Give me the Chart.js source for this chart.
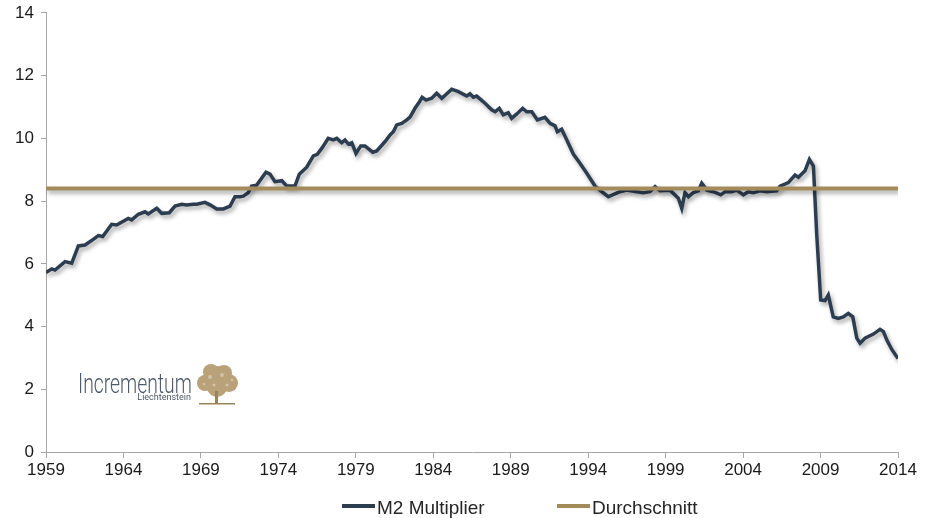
<!DOCTYPE html>
<html>
<head>
<meta charset="utf-8">
<script src="https://cdn.jsdelivr.net/npm/chart.js@4/dist/chart.umd.min.js"></script>
<style>
    html, body { margin: 0; padding: 0; background: #fff; }
    #wrap { width: 933px; height: 518px; position: relative; }
    #legend { position: absolute; left: 0; top: 0; width: 933px; height: 518px; pointer-events: none; }
    .lg-swatch { position: absolute; width: 33px; height: 4px; }
    .lg-text {
        position: absolute; font: 19px/19px "Liberation Sans", Arial, sans-serif;
        color: #262626; white-space: nowrap;
    }
</style>
</head>
<body>
<div id="wrap"><canvas id="chart"></canvas><div id="legend"></div></div>
<script>
// Quarterly-ish readings of the M2 multiplier (decimal years)
const years = [
    1959.00, 1959.37, 1959.58, 1960.23, 1960.66, 1961.09, 1961.52, 1962.05, 1962.38, 1962.66,
    1963.24, 1963.56, 1964.31, 1964.53, 1964.96, 1965.39, 1965.60, 1966.15, 1966.47, 1966.96,
    1967.33, 1967.76, 1968.08, 1968.51, 1968.73, 1969.26, 1969.59, 1970.02, 1970.45, 1970.88,
    1971.20, 1971.52, 1971.74, 1972.06, 1972.28, 1972.60, 1973.20, 1973.46, 1973.78, 1974.22,
    1974.54, 1975.07, 1975.35, 1975.83, 1976.26, 1976.51, 1976.80, 1977.22, 1977.55, 1977.77,
    1978.09, 1978.30, 1978.52, 1978.74, 1979.01, 1979.32, 1979.59, 1980.09, 1980.35, 1980.89,
    1981.21, 1981.42, 1981.64, 1981.96, 1982.29, 1982.50, 1982.82, 1983.11, 1983.28, 1983.54,
    1983.90, 1984.22, 1984.55, 1985.19, 1985.62, 1986.16, 1986.37, 1986.59, 1986.80, 1987.34,
    1987.77, 1987.99, 1988.26, 1988.52, 1988.84, 1989.06, 1989.39, 1989.77, 1990.03, 1990.36,
    1990.72, 1991.21, 1991.54, 1991.86, 1992.01, 1992.29, 1992.62, 1993.04, 1993.47, 1993.91,
    1994.44, 1994.87, 1995.30, 1996.06, 1996.49, 1997.13, 1997.56, 1997.99, 1998.32, 1998.64,
    1999.28, 1999.82, 2000.04, 2000.25, 2000.47, 2000.79, 2001.11, 2001.33, 2001.66, 2002.08,
    2002.56, 2002.84, 2003.27, 2003.59, 2004.02, 2004.34, 2004.67, 2005.09, 2005.53, 2006.17,
    2006.39, 2006.92, 2007.35, 2007.57, 2008.00, 2008.28, 2008.54, 2008.75, 2009.01, 2009.29,
    2009.50, 2009.82, 2010.15, 2010.47, 2010.79, 2011.08, 2011.34, 2011.55, 2011.87, 2012.41,
    2012.84, 2013.06, 2013.28, 2013.60, 2014.00
];

const m2Multiplier = [
    5.72, 5.84, 5.80, 6.07, 6.02, 6.57, 6.60, 6.78, 6.90, 6.87,
    7.26, 7.24, 7.45, 7.40, 7.58, 7.66, 7.59, 7.77, 7.61, 7.63,
    7.84, 7.90, 7.88, 7.90, 7.90, 7.96, 7.88, 7.75, 7.75, 7.84,
    8.14, 8.14, 8.16, 8.27, 8.48, 8.51, 8.92, 8.86, 8.62, 8.65,
    8.48, 8.48, 8.86, 9.08, 9.44, 9.49, 9.68, 10.00, 9.95, 10.00,
    9.86, 9.95, 9.82, 9.86, 9.52, 9.76, 9.76, 9.56, 9.60, 9.90,
    10.11, 10.21, 10.43, 10.48, 10.59, 10.68, 10.96, 11.17, 11.31, 11.22,
    11.28, 11.44, 11.28, 11.57, 11.49, 11.35, 11.42, 11.31, 11.35, 11.12,
    10.91, 10.85, 10.96, 10.75, 10.82, 10.64, 10.78, 10.96, 10.85, 10.85,
    10.59, 10.67, 10.48, 10.40, 10.21, 10.29, 9.95, 9.50, 9.21, 8.89,
    8.48, 8.30, 8.14, 8.30, 8.35, 8.30, 8.27, 8.30, 8.46, 8.33,
    8.35, 8.09, 7.77, 8.27, 8.14, 8.27, 8.33, 8.57, 8.35, 8.30,
    8.20, 8.30, 8.30, 8.35, 8.20, 8.30, 8.27, 8.33, 8.30, 8.33,
    8.48, 8.59, 8.83, 8.76, 8.97, 9.33, 9.12, 6.97, 4.85, 4.83,
    5.01, 4.31, 4.26, 4.31, 4.42, 4.31, 3.63, 3.47, 3.63, 3.76,
    3.91, 3.84, 3.57, 3.27, 2.98
];

const average = 8.4;
const averageSpan = [1959, 2014];

const seriesLabels = ['M2 Multiplier', 'Durchschnitt'];
const seriesColors = ['#2c3d50', '#a38b5c'];

const xTickStart = 1959;
const xTickEnd = 2014;
const xTickStep = 5;
const yTickMax = 14;
const yTickStep = 2;

const FONT = '"Liberation Sans", Arial, sans-serif';

// soft drop shadow under both lines, like the original office chart
const shadowPlugin = {
    id: 'lineShadow',
    beforeDatasetDraw(chart) {
        const ctx = chart.ctx;
        ctx.save();
        ctx.shadowColor = 'rgba(0, 0, 0, 0.35)';
        ctx.shadowBlur = 4;
        ctx.shadowOffsetX = 2;
        ctx.shadowOffsetY = 3;
    },
    afterDatasetDraw(chart) {
        chart.ctx.restore();
    }
};

// Incrementum logo in the lower left corner
const logoPlugin = {
    id: 'logo',
    afterDraw(chart) {
        const ctx = chart.ctx;
        ctx.save();
        ctx.fillStyle = '#4d5a69';
        ctx.textBaseline = 'alphabetic';
        ctx.font = '300 28px Roboto, sans-serif';
        ctx.translate(78, 393);
        ctx.scale(0.69, 1);
        ctx.fillText('Incrementum', 0, 0);
        ctx.restore();

        ctx.save();
        ctx.fillStyle = '#4d5a69';
        ctx.font = '9px Roboto, sans-serif';
        ctx.textAlign = 'right';
        ctx.fillText('Liechtenstein', 191, 400);

        // little tree
        ctx.fillStyle = '#b9a179';
        const blobs = [[217, 380, 14], [205, 383, 8], [229, 383, 9], [211, 372, 8], [224, 373, 8], [217, 387, 10]];
        blobs.forEach(b => {
            ctx.beginPath();
            ctx.arc(b[0], b[1], b[2], 0, Math.PI * 2);
            ctx.fill();
        });
        ctx.fillStyle = 'rgba(255,255,255,0.35)';
        [[210, 377, 2], [222, 375, 2], [227, 385, 1.6], [214, 385, 1.6], [204, 384, 1.3], [232, 380, 1.3]].forEach(b => {
            ctx.beginPath();
            ctx.arc(b[0], b[1], b[2], 0, Math.PI * 2);
            ctx.fill();
        });
        ctx.fillStyle = '#9c8456';
        ctx.fillRect(215, 391, 3, 12);
        ctx.fillRect(199, 403, 36, 1.5);
        ctx.restore();
    }
};

const ctx = document.getElementById('chart').getContext('2d');

new Chart(ctx, {
    type: 'line',
    data: {
        datasets: [{
            label: seriesLabels[0],
            data: years.map((y, i) => ({ x: y, y: m2Multiplier[i] })),
            borderColor: seriesColors[0],
            backgroundColor: seriesColors[0],
            borderWidth: 3.5,
            pointRadius: 0,
            tension: 0,
            order: 2
        }, {
            label: seriesLabels[1],
            data: averageSpan.map(y => ({ x: y, y: average })),
            borderColor: seriesColors[1],
            backgroundColor: seriesColors[1],
            borderWidth: 4,
            pointRadius: 0,
            order: 1
        }]
    },
    options: {
        responsive: true,
        maintainAspectRatio: false,
        animation: false,
        layout: {
            padding: { top: 0, right: 35, left: 0, bottom: 30 }
        },
        plugins: {
            legend: { display: false },
            tooltip: { enabled: false }
        },
        scales: {
            x: {
                type: 'linear',
                min: xTickStart,
                max: xTickEnd,
                afterFit: function (scale) {
                    scale.height = 36;
                },
                ticks: {
                    stepSize: xTickStep,
                    color: '#1a1a1a',
                    font: { family: FONT, size: 17 },
                    padding: 2,
                    maxRotation: 0,
                    autoSkip: false,
                    callback: function (value) {
                        return String(value);
                    }
                },
                grid: {
                    drawOnChartArea: false,
                    drawTicks: true,
                    tickLength: 6,
                    color: '#a6a6a6'
                },
                border: { color: '#a6a6a6', width: 1 }
            },
            y: {
                min: 0,
                max: yTickMax,
                afterFit: function (scale) {
                    scale.width = 46;
                },
                ticks: {
                    stepSize: yTickStep,
                    color: '#1a1a1a',
                    font: { family: FONT, size: 17, lineHeight: 0.7 },
                    padding: 7
                },
                grid: {
                    drawOnChartArea: false,
                    drawTicks: true,
                    tickLength: 5,
                    color: '#a6a6a6'
                },
                border: { color: '#a6a6a6', width: 1 }
            }
        }
    },
    plugins: [shadowPlugin, logoPlugin]
});

// legend below the plot, built from the series names and colours
const legendSlots = [342, 557];
const legendEl = document.getElementById('legend');
seriesLabels.forEach((name, i) => {
    const sw = document.createElement('div');
    sw.className = 'lg-swatch';
    sw.style.left = legendSlots[i] + 'px';
    sw.style.top = '504px';
    sw.style.background = seriesColors[i];
    legendEl.appendChild(sw);
    const tx = document.createElement('div');
    tx.className = 'lg-text';
    tx.style.left = (legendSlots[i] + 35) + 'px';
    tx.style.top = '498px';
    tx.textContent = name;
    legendEl.appendChild(tx);
});
</script>
</body>
</html>
